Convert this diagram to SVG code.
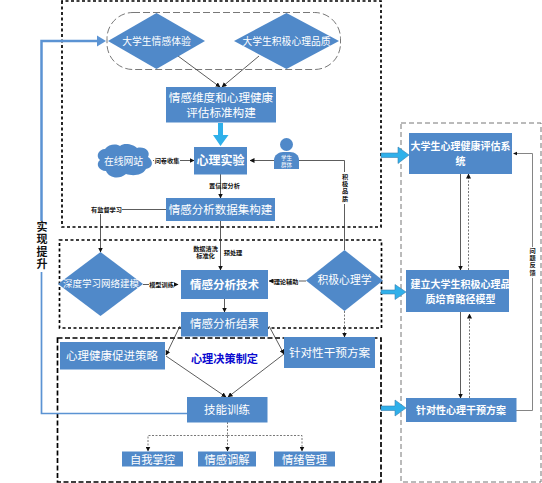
<svg xmlns="http://www.w3.org/2000/svg" width="542" height="483" viewBox="0 0 542 483">
<style>
text{font-family:"Noto Sans CJK SC","Liberation Sans",sans-serif;text-anchor:middle}
.n{fill:#5089c9}
.w{fill:#fff}
.b{font-weight:700}
.l{font-size:6.2px;fill:#111;font-weight:700}
.v{writing-mode:vertical-rl;font-size:6.2px;fill:#111;font-weight:700;letter-spacing:1.2px}
.c{fill:none;stroke:#333;stroke-width:.8}
.d{fill:none;stroke:#555;stroke-width:.8;stroke-dasharray:2 1.5}
.f{fill:none;stroke:#000;stroke-width:1.7;stroke-dasharray:3 2.5}
.g{fill:none;stroke:#000;stroke-width:1.7;stroke-dasharray:5 2.5}
.e{fill:none;stroke:#777;stroke-width:1;stroke-dasharray:5 3}
.big{fill:#2fb0ea;stroke:#3b7fb0;stroke-width:.6}
</style>
<defs>
<marker id="a" markerWidth="5" markerHeight="5" refX="4.500" refY="2.500" orient="auto" markerUnits="userSpaceOnUse"><path d="M0 0L5 2.500L0 5z" fill="#111"/></marker>
</defs>
<rect width="542" height="483" fill="#fff"/>
<g id="frames">
<path class="f" d="M62 1V227H381V1H62z"/>
<rect class="f" x="59.500" y="240" width="322" height="88"/>
<rect class="g" x="57.500" y="338" width="323.500" height="144"/>
<rect class="e" x="401" y="123" width="140" height="359"/>
<rect x="107" y="12.500" width="233.500" height="57" rx="26" fill="none" stroke="#555" stroke-width=".8" stroke-dasharray="7 3"/>
</g>
<g id="connectors">
<path class="c" marker-end="url(#a)" d="M178 56L220 87"/>
<path class="c" marker-end="url(#a)" d="M259 56L222 87"/>
<path class="c" marker-end="url(#a)" d="M153 160.500H194"/>
<path class="c" marker-end="url(#a)" d="M299 160.500H250"/>
<path class="c" d="M299 160.500H344.500V250"/>
<path class="c" marker-end="url(#a)" d="M220.500 174V198"/>
<path class="c" d="M166 209.500H100"/>
<path class="c" marker-end="url(#a)" d="M100.500 209.500V252"/>
<path class="c" marker-end="url(#a)" d="M220.500 220V270"/>
<path class="c" marker-end="url(#a)" d="M143 284.500H178"/>
<path class="c" marker-end="url(#a)" d="M306 281H269"/>
<path class="c" marker-end="url(#a)" d="M224.500 299V312"/>
<path class="d" marker-end="url(#a)" d="M344.500 311V337"/>
<path class="c" marker-end="url(#a)" d="M180 326L166 355"/>
<path class="c" marker-end="url(#a)" d="M269 326L284 354"/>
<path class="c" marker-end="url(#a)" d="M166 356L226 397"/>
<path class="c" marker-end="url(#a)" d="M284 354L228 397"/>
<path class="d" marker-end="url(#a)" d="M227.500 422V451"/>
<path class="d" marker-end="url(#a)" d="M227.500 435.500H148V451"/>
<path class="d" marker-end="url(#a)" d="M227.500 435.500H302V451"/>
<path class="c" marker-end="url(#a)" d="M460.500 174V270"/>
<path class="d" marker-end="url(#a)" d="M468.500 270V174"/>
<path class="c" marker-end="url(#a)" d="M460.500 312V398"/>
<path class="d" marker-end="url(#a)" d="M469.500 398V314"/>
<path d="M516 410.500H532.500V153.500H516" fill="none" stroke="#777" stroke-width=".9"/>
<path d="M513 153.500l4-1.800v3.600z" fill="#111"/>
<path d="M187 413.500H41.500V272" fill="none" stroke="#5b93d3" stroke-width="1.700"/>
<path d="M41.500 221V41H100" fill="none" stroke="#5b93d3" stroke-width="2.500"/>
<path d="M97 35.500L106 41L97 46.500z" fill="#5b93d3"/>
<path d="M218 123H223V135H228.500L220.500 146L213 135H218z" fill="#2fb0ea"/>
<path class="big" d="M381 153H398V147L409 155L398 163.500V157.500H381z"/>
<path class="big" d="M381 290H395V284.500L406 292L395 299.500V294H381z"/>
<path class="big" d="M381 406H395V400L406 408L395 416V410.500H381z"/>
</g>
<g id="n1"><path class="n" d="M156.500 13L205 41L156.500 69L108 41z"/><text class="w" x="156.500" y="44.500" font-size="9.800">大学生情感体验</text></g>
<g id="n2"><path class="n" d="M286.500 13L339 41L286.500 69L234 41z"/><text class="w" x="286.500" y="44.500" font-size="9.800">大学生积极心理品质</text></g>
<g id="n3"><rect class="n" x="166" y="87" width="110" height="35.500"/><text class="w" x="221" y="102" font-size="11.600">情感维度和心理健康</text><text class="w" x="221" y="117" font-size="11.600">评估标准构建</text></g>
<g id="n4"><rect class="n" x="194" y="147" width="53" height="27.500"/><text class="w b" x="220.500" y="165" font-size="12">心理实验</text></g>
<g id="n5"><path class="n" d="M105 149C109 143 118 144 120 146C125 142 134 145 137 148C145 146 151 152 148 157C154 161 153 168 146 169C142 176 132 176 126 174C119 180 109 178 106 171C99 171 95 164 100 160C95 156 99 149 105 149z"/><text class="w" x="123.500" y="164.500" font-size="9.800">在线网站</text></g>
<g id="n6"><circle class="n" cx="286.500" cy="144.500" r="6.500"/><path class="n" d="M274 169V160C274 155 279 152 283 152H290C295 152 299 155 299 160V169z"/><text class="w" x="286.500" y="160" font-size="5.500">学生</text><text class="w" x="286.500" y="167.300" font-size="5.500">群体</text></g>
<g id="n7"><rect class="n" x="166" y="198" width="109" height="23"/><text class="w" x="220.500" y="213.500" font-size="11.500">情感分析数据集构建</text></g>
<g id="n8"><path class="n" d="M100.500 252L143 284L100.500 316L58 284z"/><text class="w" x="101" y="287" font-size="9.500">深度学习网络建模</text></g>
<g id="n9"><rect class="n" x="181" y="270" width="87" height="29"/><text class="w b" x="224.500" y="288.500" font-size="11.500">情感分析技术</text></g>
<g id="n10"><path class="n" d="M344.500 250L383 280.500L344.500 311L306 280.500z"/><text class="w" x="344.500" y="284" font-size="10.800">积极心理学</text></g>
<g id="n11"><rect class="n" x="181" y="312" width="87" height="24.500"/><text class="w" x="224.500" y="328" font-size="11.500">情感分析结果</text></g>
<g id="n12"><rect class="n" x="60" y="342" width="105" height="27.500"/><text class="w" x="112" y="360" font-size="11.500">心理健康促进策略</text></g>
<g id="n13"><rect class="n" x="284" y="337" width="91" height="31"/><text class="w" x="329.500" y="356.500" font-size="11.600">针对性干预方案</text></g>
<g id="n14"><text x="224.500" y="363" font-size="11.200" font-weight="700" fill="#0a0ad0">心理决策制定</text></g>
<g id="n15"><rect class="n" x="187" y="397" width="80.500" height="25.500"/><text class="w" x="227" y="414" font-size="11.500">技能训练</text></g>
<g id="n16"><rect class="n" x="122" y="451.500" width="61" height="15"/><text class="w" x="152.500" y="463.500" font-size="11.300">自我掌控</text></g>
<g id="n17"><rect class="n" x="198" y="451.500" width="58" height="15"/><text class="w" x="227" y="463.500" font-size="11.300">情感调解</text></g>
<g id="n18"><rect class="n" x="274" y="451.500" width="61" height="15"/><text class="w" x="304.500" y="463.500" font-size="11.300">情绪管理</text></g>
<g id="n19"><rect class="n" x="409" y="133" width="103" height="41"/><text class="w b" x="460.500" y="150.300" font-size="10">大学生心理健康评估系</text><text class="w b" x="460.500" y="165" font-size="10">统</text></g>
<g id="n20"><rect class="n" x="406" y="270" width="103" height="42"/><text class="w b" x="460.500" y="288" font-size="10">建立大学生积极心理品</text><text class="w b" x="460.500" y="302.700" font-size="10">质培育路径模型</text></g>
<g id="n21"><rect class="n" x="406" y="398" width="110.500" height="24"/><text class="w b" x="461" y="413.500" font-size="10">针对性心理干预方案</text></g>
<g id="labels">
<rect x="154" y="156" width="26" height="9" fill="#fff"/><text class="l" x="167" y="163">问卷收集</text>
<text class="l" x="224.500" y="187.500">置信度分析</text>
<rect x="90" y="205" width="32" height="9" fill="#fff"/><text class="l" x="106.500" y="211.500">有监督学习</text>
<text class="l" x="205.500" y="250.500">数据清洗</text><text class="l" x="205.500" y="258">标准化</text>
<text class="l" x="233" y="254.500">预处理</text>
<rect x="149" y="280" width="25" height="9" fill="#fff"/><text class="l" x="161.500" y="287">模型训练</text>
<rect x="274" y="277" width="25" height="9" fill="#fff"/><text class="l" x="286" y="284">理论辅助</text>
<rect x="340" y="172" width="9" height="32" fill="#fff"/><text class="v" x="345" y="188">积极品质</text>
<rect x="528" y="247" width="9" height="31" fill="#fff"/><text class="v" x="532.500" y="262">问题反馈</text>
<text class="b" x="42" y="246" fill="#111" style="writing-mode:vertical-rl;font-size:11px;letter-spacing:1.500px">实现提升</text>
</g>
</svg>
